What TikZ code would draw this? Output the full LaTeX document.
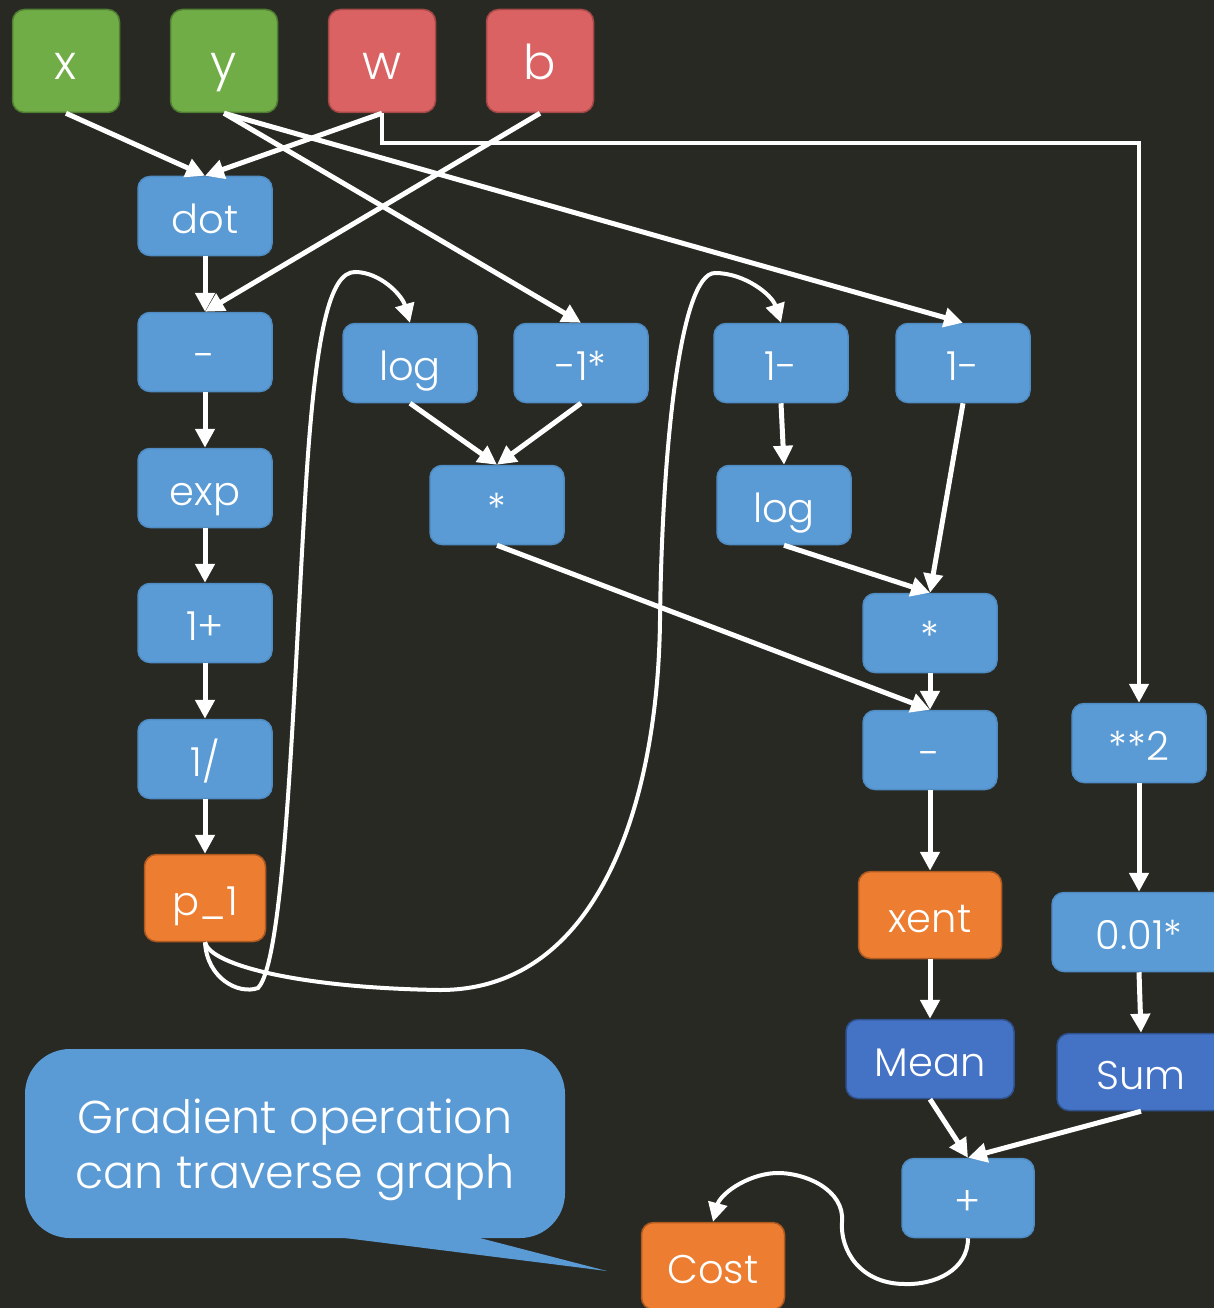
\documentclass[tikz,border=0pt]{standalone}
\usepackage{fontspec}
\setmainfont{Poppins Light}
\usetikzlibrary{arrows.meta}
\definecolor{bg}{RGB}{40,41,34}
\definecolor{opblue}{RGB}{91,155,213}
\definecolor{opblueb}{RGB}{80,140,196}
\definecolor{ingreen}{RGB}{112,173,71}
\definecolor{ingreenb}{RGB}{80,126,50}
\definecolor{pred}{RGB}{218,98,98}
\definecolor{predb}{RGB}{165,72,72}
\definecolor{outorange}{RGB}{237,125,49}
\definecolor{outorangeb}{RGB}{174,90,33}
\definecolor{aggblue}{RGB}{68,114,196}
\definecolor{aggblueb}{RGB}{47,82,143}
\tikzset{
  box/.style={rounded corners=12pt, inner sep=0pt, text=white, line width=1.5pt, text depth=0pt},
  opbox/.style={box, fill=opblue, draw=opblueb, minimum width=134pt, minimum height=79pt, text height=35pt, font=\fontsize{40}{44}\selectfont},
  inbox/.style={box, fill=ingreen, draw=ingreenb, minimum width=107pt, minimum height=103pt, text height=38pt, font=\fontsize{48}{52}\selectfont},
  parbox/.style={box, fill=pred, draw=predb, minimum width=107pt, minimum height=103pt, text height=38pt, font=\fontsize{48}{52}\selectfont},
  outbox/.style={box, fill=outorange, draw=outorangeb, minimum height=87pt, text height=35pt, font=\fontsize{40}{44}\selectfont},
  aggbox/.style={box, fill=aggblue, draw=aggblueb, minimum height=79pt, text height=35pt, font=\fontsize{40}{44}\selectfont},
  arr/.style={draw=white, line width=5pt, -{Triangle[length=19pt,width=19pt]}},
}
\begin{document}
\begin{tikzpicture}[x=1pt,y=-1pt]
\fill[bg] (0,0) rectangle (1214,1308);
\useasboundingbox (0,0) rectangle (1214,1308);
% inputs
\node[inbox] (x) at (66,61) {x};
\node[inbox] (y) at (224,61) {y};
\node[parbox] (w) at (382,61) {w};
\node[parbox] (b) at (540,61) {b};
% left column
\node[opbox] (dot) at (205,216) {dot};
\node[opbox] (sub) at (205,352) {-};
\node[opbox] (exp) at (205,488) {exp};
\node[opbox] (onep) at (205,623) {1+};
\node[opbox] (inv) at (205,759) {1/};
\node[outbox, minimum width=121pt] (p1) at (205,898) {p\_1};
% middle
\node[opbox] (loga) at (410,363) {log};
\node[opbox] (neg) at (581,363) {-1*};
\node[opbox] (mula) at (497,505) {*};
\node[opbox] (onema) at (781,363) {1-};
\node[opbox] (onemb) at (963,363) {1-};
\node[opbox] (logb) at (784,505) {log};
\node[opbox] (mulb) at (930,633) {*};
\node[opbox] (subb) at (930,750) {-};
\node[outbox, minimum width=143pt] (xent) at (930,915) {xent};
\node[aggbox, minimum width=168pt] (mean) at (930,1059) {Mean};
% right column
\node[opbox] (sq) at (1139,743) {**2};
\node[opbox, minimum width=174pt] (scale) at (1139,932) {0.01*};
\node[aggbox, minimum width=168pt, minimum height=77pt] (sum) at (1141,1072) {Sum};
\node[opbox, minimum width=132pt] (plus) at (968,1198) {+};
\node[outbox, minimum width=143pt] (cost) at (713,1266) {Cost};
% callout
\fill[opblue] (337,1237) -- (607,1271) -- (476,1237) -- cycle;
\fill[opblue, rounded corners=45pt] (25,1049) rectangle (565,1238);
\node[text=white, align=center, font=\fontsize{46}{55}\selectfont] (callout) at (295,1150) {Gradient operation\\can traverse graph};
% edges
\draw[arr] (x.south) -- (dot.north);
\draw[arr] (w.south) -- (dot.north);
\draw[arr] (b.south) -- (sub.north);
\draw[arr] (y.south) -- (neg.north);
\draw[arr] (y.south) -- (onemb.north);
\draw[arr, line width=4.5pt] (w.south) -- ++(0,30) -| (sq.north);
\draw[arr] (dot) -- (sub);
\draw[arr] (sub) -- (exp);
\draw[arr] (exp) -- (onep);
\draw[arr] (onep) -- (inv);
\draw[arr] (inv) -- (p1);
\draw[arr] (loga.south) -- (mula.north);
\draw[arr] (neg.south) -- (mula.north);
\draw[arr] (onema.south) -- (logb.north);
\draw[arr] (onemb.south) -- (mulb.north);
\draw[arr] (logb.south) -- (mulb.north);
\draw[arr] (mula.south) -- (subb.north);
\draw[arr] (mulb) -- (subb);
\draw[arr] (subb) -- (xent);
\draw[arr] (xent) -- (mean);
\draw[arr] (sq) -- (scale);
\draw[arr] (scale.south) -- (sum.north);
\draw[arr] (mean.south) -- (plus.north);
\draw[arr] (sum.south) -- (plus.north);
\draw[arr, line width=4pt] (p1.south) .. controls (207,978) and (238,995) .. (258,988)
  .. controls (285,960) and (293,700) .. (305,500)
  .. controls (315,330) and (330,272) .. (355,272)
  .. controls (380,272) and (402,295) .. (loga.north);
\draw[arr, line width=4pt] (p1.south) .. controls (210,965) and (300,988) .. (440,990)
  .. controls (600,990) and (658,800) .. (660,620)
  .. controls (662,450) and (680,273) .. (715,273)
  .. controls (745,273) and (772,295) .. (onema.north);
\draw[arr, line width=4pt] (plus.south) .. controls (968,1270) and (935,1285) .. (905,1284)
  .. controls (860,1284) and (840,1250) .. (842,1222)
  .. controls (845,1190) and (805,1172) .. (775,1173)
  .. controls (745,1175) and (720,1195) .. (cost.north);
\end{tikzpicture}
\end{document}
